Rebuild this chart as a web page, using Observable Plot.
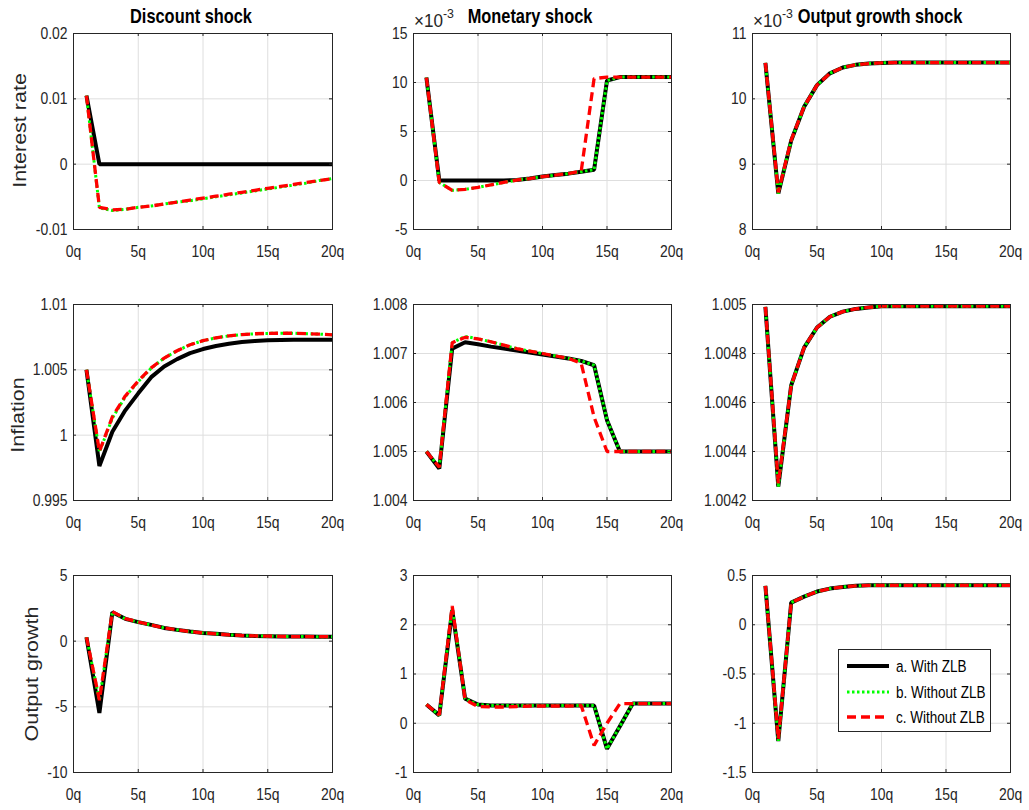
<!DOCTYPE html>
<html><head><meta charset="utf-8">
<script src="https://cdn.jsdelivr.net/npm/d3@7"></script>
<script src="https://cdn.jsdelivr.net/npm/@observablehq/plot@0.6"></script>
<style>
body{margin:0;background:#fff;}
#wrap{position:relative;width:1029px;height:810px;overflow:hidden;background:#fff;}
.panel{position:absolute;}
#overlay{position:absolute;left:0;top:0;}
</style></head><body><div id="wrap"></div>
<script>
// ---------- data ----------
const quarters = [1,2,3,4,5,6,7,8,9,10,11,12,13,14,15,16,17,18,19,20];
const xTicks = [0,5,10,15,20];
const xTickLabels = ["0q","5q","10q","15q","20q"];
const seriesNames = ["a. With ZLB","b. Without ZLB","c. Without ZLB"];
const columnTitles = ["Discount shock","Monetary shock","Output growth shock"];
const rowLabels = ["Interest rate","Inflation","Output growth"];

// Discount shock – interest rate
const discRateA = [0.0105,0,0,0,0,0,0,0,0,0,0,0,0,0,0,0,0,0,0,0];
const discRateB = [0.0105,-0.0067,-0.0071,-0.0069,-0.0066,-0.0064,-0.0061,-0.0058,-0.0056,-0.0053,-0.0050,-0.0047,-0.0044,-0.0041,-0.0038,-0.0035,-0.0032,-0.0029,-0.0025,-0.0022];
const discRateC = [0.0105,-0.0066,-0.0070,-0.0069,-0.0066,-0.0064,-0.0061,-0.0058,-0.0055,-0.0052,-0.0049,-0.0046,-0.0043,-0.0040,-0.0037,-0.0034,-0.0031,-0.0028,-0.0025,-0.0022];
const discRateTicks = [-0.01,0,0.01,0.02];
const discRateTickLabels = ["-0.01","0","0.01","0.02"];

// Monetary shock – interest rate (x 10^-3)
const monRateA = [10.5,0,0,0,0,0,0,0.05,0.2,0.4,0.55,0.7,0.9,1.1,10.2,10.55,10.55,10.55,10.55,10.55];
const monRateB = [10.5,-0.2,-1.0,-0.9,-0.7,-0.45,-0.2,0.05,0.2,0.4,0.55,0.7,0.9,1.1,10.2,10.55,10.55,10.55,10.55,10.55];
const monRateC = [10.5,-0.2,-1.0,-0.9,-0.7,-0.45,-0.2,0.05,0.2,0.4,0.55,0.7,0.95,10.4,10.55,10.55,10.55,10.55,10.55,10.55];
const monRateTicks = [-5,0,5,10,15];
const monRateTickLabels = ["-5","0","5","10","15"];

// Output growth shock – interest rate (x 10^-3)
const ogRateA = [10.55,8.55,9.36,9.88,10.21,10.39,10.48,10.52,10.54,10.55,10.555,10.555,10.555,10.555,10.555,10.555,10.555,10.555,10.555,10.555];
const ogRateB = [10.55,8.55,9.36,9.88,10.21,10.39,10.48,10.52,10.54,10.55,10.555,10.555,10.555,10.555,10.555,10.555,10.555,10.555,10.555,10.555];
const ogRateC = [10.55,8.57,9.37,9.88,10.21,10.39,10.48,10.52,10.54,10.55,10.555,10.555,10.555,10.555,10.555,10.555,10.555,10.555,10.555,10.555];
const ogRateTicks = [8,9,10,11];
const ogRateTickLabels = ["8","9","10","11"];

// Discount shock – inflation
const discInfA = [1.0050,0.99764,1.00026,1.0019,1.0032,1.00444,1.00526,1.00582,1.00628,1.00659,1.00682,1.0070,1.00713,1.0072,1.00726,1.00729,1.0073,1.0073,1.0073,1.0073];
const discInfB = [1.0050,0.99872,1.0013,1.00295,1.0041,1.00513,1.0059,1.00646,1.00692,1.00723,1.00745,1.0076,1.0077,1.00776,1.00779,1.0078,1.0078,1.00777,1.00773,1.00768];
const discInfC = [1.0050,0.99875,1.0014,1.003,1.00415,1.00515,1.0059,1.00646,1.00692,1.00723,1.00745,1.0076,1.0077,1.00776,1.00779,1.0078,1.0078,1.00777,1.00773,1.00768];
const discInfTicks = [0.995,1,1.005,1.01];
const discInfTickLabels = ["0.995","1","1.005","1.01"];

// Monetary shock – inflation
const monInfA = [1.0050,1.00465,1.0071,1.00723,1.00719,1.00714,1.0071,1.00706,1.00702,1.00698,1.00694,1.0069,1.00685,1.00676,1.00564,1.0050,1.0050,1.0050,1.0050,1.0050];
const monInfB = [1.0050,1.00468,1.00722,1.00735,1.0073,1.00724,1.00717,1.0071,1.00705,1.0070,1.00695,1.0069,1.00685,1.00676,1.00564,1.0050,1.0050,1.0050,1.0050,1.0050];
const monInfC = [1.0050,1.00468,1.00722,1.00733,1.0073,1.00724,1.00717,1.0071,1.00705,1.0070,1.00695,1.0069,1.0068,1.0057,1.0050,1.0050,1.0050,1.0050,1.0050,1.0050];
const monInfTicks = [1.004,1.005,1.006,1.007,1.008];
const monInfTickLabels = ["1.004","1.005","1.006","1.007","1.008"];

// Output growth shock – inflation
const ogInfA = [1.00499,1.004257,1.00467,1.004824,1.004906,1.00495,1.004971,1.004982,1.004988,1.004993,1.004993,1.004993,1.004993,1.004993,1.004993,1.004993,1.004993,1.004993,1.004993,1.004993];
const ogInfB = [1.00499,1.004257,1.00467,1.004824,1.004906,1.00495,1.004971,1.004982,1.004988,1.004993,1.004993,1.004993,1.004993,1.004993,1.004993,1.004993,1.004993,1.004993,1.004993,1.004993];
const ogInfC = [1.00499,1.00427,1.00467,1.004824,1.004906,1.00495,1.004971,1.004982,1.004988,1.004993,1.004993,1.004993,1.004993,1.004993,1.004993,1.004993,1.004993,1.004993,1.004993,1.004993];
const ogInfTicks = [1.0042,1.0044,1.0046,1.0048,1.005];
const ogInfTickLabels = ["1.0042","1.0044","1.0046","1.0048","1.005"];

// Discount shock – output growth
const discOutA = [0.3,-5.47,2.2,1.7,1.45,1.24,1.01,0.86,0.73,0.63,0.56,0.48,0.43,0.40,0.38,0.36,0.35,0.35,0.34,0.34];
const discOutB = [0.3,-4.5,2.2,1.7,1.45,1.24,1.01,0.86,0.73,0.63,0.56,0.48,0.43,0.40,0.38,0.36,0.35,0.35,0.34,0.34];
const discOutC = [0.3,-4.5,2.25,1.72,1.46,1.24,1.01,0.86,0.73,0.63,0.56,0.48,0.43,0.40,0.38,0.36,0.35,0.35,0.34,0.34];
const discOutTicks = [-10,-5,0,5];
const discOutTickLabels = ["-10","-5","0","5"];

// Monetary shock – output growth
const monOutA = [0.38,0.16,2.3,0.5,0.38,0.36,0.36,0.36,0.36,0.36,0.36,0.36,0.36,0.36,-0.52,-0.06,0.40,0.40,0.40,0.40];
const monOutB = [0.38,0.16,2.35,0.5,0.38,0.36,0.36,0.36,0.36,0.36,0.36,0.36,0.36,0.36,-0.52,-0.06,0.40,0.40,0.40,0.40];
const monOutC = [0.38,0.17,2.38,0.48,0.34,0.33,0.33,0.34,0.35,0.35,0.35,0.35,0.36,-0.45,0.0,0.40,0.40,0.40,0.40,0.40];
const monOutTicks = [-1,0,1,2,3];
const monOutTickLabels = ["-1","0","1","2","3"];

// Output growth shock – output growth
const ogOutA = [0.395,-1.18,0.225,0.286,0.337,0.367,0.384,0.395,0.40,0.40,0.40,0.40,0.40,0.40,0.40,0.40,0.40,0.40,0.40,0.40];
const ogOutB = [0.395,-1.18,0.225,0.286,0.337,0.367,0.384,0.395,0.40,0.40,0.40,0.40,0.40,0.40,0.40,0.40,0.40,0.40,0.40,0.40];
const ogOutC = [0.395,-1.16,0.225,0.286,0.337,0.367,0.384,0.395,0.40,0.40,0.40,0.40,0.40,0.40,0.40,0.40,0.40,0.40,0.40,0.40];
const ogOutTicks = [-1.5,-1,-0.5,0,0.5];
const ogOutTickLabels = ["-1.5","-1","-0.5","0","0.5"];

const panels = [
  {row:0,col:0,series:[discRateA,discRateB,discRateC],ticks:discRateTicks,labels:discRateTickLabels},
  {row:0,col:1,series:[monRateA,monRateB,monRateC],ticks:monRateTicks,labels:monRateTickLabels,exp:true},
  {row:0,col:2,series:[ogRateA,ogRateB,ogRateC],ticks:ogRateTicks,labels:ogRateTickLabels,exp:true},
  {row:1,col:0,series:[discInfA,discInfB,discInfC],ticks:discInfTicks,labels:discInfTickLabels},
  {row:1,col:1,series:[monInfA,monInfB,monInfC],ticks:monInfTicks,labels:monInfTickLabels},
  {row:1,col:2,series:[ogInfA,ogInfB,ogInfC],ticks:ogInfTicks,labels:ogInfTickLabels},
  {row:2,col:0,series:[discOutA,discOutB,discOutC],ticks:discOutTicks,labels:discOutTickLabels},
  {row:2,col:1,series:[monOutA,monOutB,monOutC],ticks:monOutTicks,labels:monOutTickLabels},
  {row:2,col:2,series:[ogOutA,ogOutB,ogOutC],ticks:ogOutTicks,labels:ogOutTickLabels}
];

// ---------- layout / style ----------
const colX = [73,413,752], colW = [259,258,258];
const rowY = [33,304,575], rowH = [196,196,197];
const ML = 70, MR = 12, MT = 10, MB = 36;
const FONT = '"Liberation Sans",Arial,sans-serif';
const SX = 0.82; // horizontal condensation of the reference's lettering
const AXC = "#262626";
const lineStyles = [
  {stroke:"#000000", strokeWidth:4, strokeLinecap:"butt", strokeLinejoin:"miter"},
  {stroke:"#00ff00", strokeWidth:3, strokeDasharray:"2.5,2.5", strokeLinecap:"butt", strokeLinejoin:"miter"},
  {stroke:"#ff0000", strokeWidth:3.3, strokeDasharray:"9,5", strokeLinecap:"butt", strokeLinejoin:"miter"}
];

const wrap = document.getElementById("wrap");
const xLabelMap = new Map(xTicks.map((t,i)=>[t,xTickLabels[i]]));

for (const p of panels) {
  const fw = colW[p.col], fh = rowH[p.row];
  const yMap = new Map(p.ticks.map((t,i)=>[t,p.labels[i]]));
  const yDomain = [p.ticks[0], p.ticks[p.ticks.length-1]];
  const lineMarks = p.series.map((vals,s) => Plot.line(
    quarters.map((q,i)=>({q, v: vals[i], s: seriesNames[s]})),
    {x:"q", y:"v", ...lineStyles[s]}
  ));
  const chart = Plot.plot({
    width: fw+ML+MR, height: fh+MT+MB,
    marginLeft: ML, marginRight: MR, marginTop: MT, marginBottom: MB,
    x: {domain:[0,20]},
    y: {domain: yDomain},
    style: {fontFamily: FONT, fontSize: "17px", color: AXC, background: "transparent", overflow: "visible"},
    marks: [
      Plot.gridX(xTicks, {stroke:"#dedede", strokeOpacity:1, strokeWidth:1}),
      Plot.gridY(p.ticks, {stroke:"#dedede", strokeOpacity:1, strokeWidth:1}),
      ...lineMarks,
      Plot.tickY(p.ticks, {stroke:AXC, insetRight: fw-3}),
      Plot.tickY(p.ticks, {stroke:AXC, insetLeft: fw-3}),
      Plot.tickX(xTicks, {stroke:AXC, insetTop: fh-3}),
      Plot.tickX(xTicks, {stroke:AXC, insetBottom: fh-3}),
      Plot.frame({stroke:AXC, strokeWidth:1}),
      Plot.axisX(xTicks, {anchor:"bottom", tickSize:0, tickPadding:15, tickFormat: d => xLabelMap.get(d), label:null, fontSize:17, fill:AXC}),
      Plot.axisY(p.ticks, {anchor:"left", tickSize:0, tickPadding:6, tickFormat: d => yMap.get(d), label:null, fontSize:17, fill:AXC})
    ]
  });
  chart.classList.add("panel");
  chart.style.left = (colX[p.col]-ML)+"px";
  chart.style.top = (rowY[p.row]-MT)+"px";
  wrap.appendChild(chart);
  // condense tick labels horizontally about their own anchor (measured in the DOM)
  chart.querySelectorAll('g[aria-label$="tick label"] text').forEach(t => {
    const bb = t.getBBox();
    const anchor = getComputedStyle(t).textAnchor || t.getAttribute("text-anchor") || (t.parentNode && t.parentNode.getAttribute("text-anchor")) || "middle";
    let ax = bb.x + bb.width/2;
    if (anchor === "end") ax = bb.x + bb.width;
    else if (anchor === "start") ax = bb.x;
    const tr = t.getAttribute("transform")||"";
    t.setAttribute("transform", `${tr} translate(${ax},0) scale(${SX},1) translate(${-ax},0)`);
  });
}

// ---------- annotations (titles, labels, legend) ----------
const NS = "http://www.w3.org/2000/svg";
const ov = document.createElementNS(NS,"svg");
ov.setAttribute("id","overlay");
ov.setAttribute("width",1029); ov.setAttribute("height",810);
wrap.appendChild(ov);
function el(tag, attrs, parent=ov){ const e=document.createElementNS(NS,tag); for(const k in attrs) e.setAttribute(k,attrs[k]); parent.appendChild(e); return e; }
function txt(str, attrs){ const e=el("text",attrs); e.textContent=str; return e; }

const titleX = [191,530,880];
columnTitles.forEach((t,i)=>txt(t,{transform:`translate(${titleX[i]},22.5) scale(${SX},1)`,"text-anchor":"middle","font-family":FONT,"font-weight":"bold","font-size":20,fill:"#000"}));

const ylabPos = [[26,130.5],[24,415],[38,674]];
rowLabels.forEach((t,i)=>txt(t,{transform:`translate(${ylabPos[i][0]},${ylabPos[i][1]}) scale(${SX},1) rotate(-90)`,"text-anchor":"middle","font-family":FONT,"font-size":21.5,fill:AXC}));

for (const p of panels.filter(p=>p.exp)) {
  const t = el("text",{transform:`translate(${colX[p.col]+1},27) scale(0.95,1)`,"font-family":FONT,"font-size":18,fill:AXC});
  const a = el("tspan",{},t); a.textContent = "\u00d710";
  const b = el("tspan",{dy:-9,"font-size":13},t); b.textContent = "-3";
}

// legend
const lg = {x:838,y:649,w:152,h:82};
el("rect",{x:lg.x+0.5,y:lg.y+0.5,width:lg.w,height:lg.h,fill:"#fff",stroke:AXC,"stroke-width":1});
const lgRows = [666,692,717];
seriesNames.forEach((n,i)=>{
  const st = lineStyles[i];
  el("line",{x1:847,x2:889,y1:lgRows[i],y2:lgRows[i],stroke:st.stroke,"stroke-width":st.strokeWidth,"stroke-dasharray":st.strokeDasharray||"none"});
  txt(n,{transform:`translate(896,${lgRows[i]+5.5}) scale(${SX},1)`,"font-family":FONT,"font-size":16.5,fill:"#000"});
});
</script></body></html>
